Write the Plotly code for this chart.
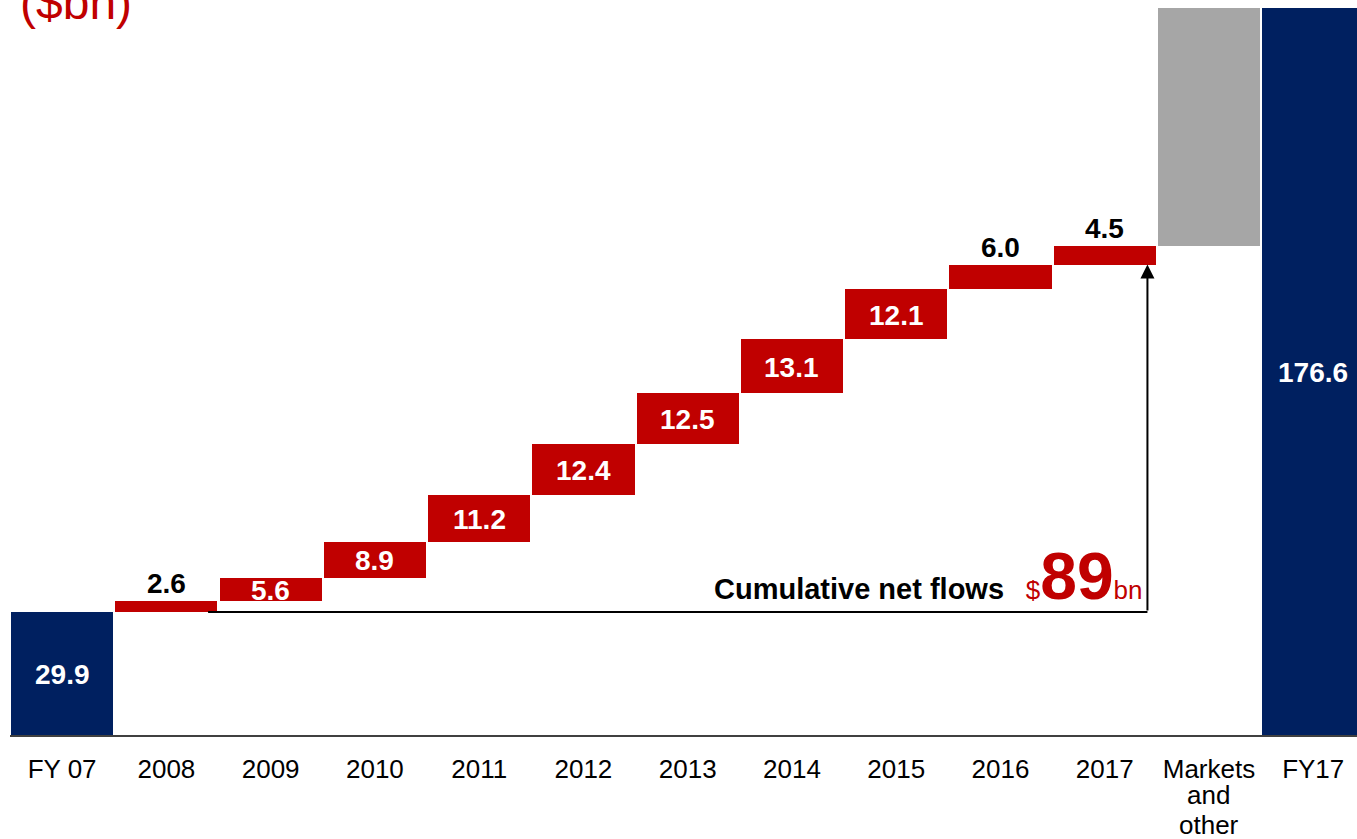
import plotly.graph_objects as go

# Waterfall of assets: opening total, yearly net flows, market moves, closing total
categories = ["FY 07", "2008", "2009", "2010", "2011", "2012", "2013",
              "2014", "2015", "2016", "2017", "Markets<br>and<br>other", "FY17"]
opening = 29.9
net_flows = [2.6, 5.6, 8.9, 11.2, 12.4, 12.5, 13.1, 12.1, 6.0, 4.5]
markets_other = 57.8
closing = 176.6
labels = ["29.9", "2.6", "5.6", "8.9", "11.2", "12.4", "12.5", "13.1",
          "12.1", "6.0", "4.5", "", "176.6"]
outside_labels = {"2.6", "6.0", "4.5"}

NAVY = "#002060"
RED = "#C00000"
GREY = "#A6A6A6"
FONT = "Liberation Sans, Arial, sans-serif"
TICK_SIZE = 26
TICK_STANDOFF = 10
LINE_STEP = 30  # tighter line pitch for wrapped category names

# floating bar bases and heights
values = [opening] + net_flows + [markets_other, closing]
bases = [0.0]
running = opening
for v in net_flows:
    bases.append(running)
    running += v
bases.append(running)
bases.append(0.0)
colors = [NAVY] + [RED] * len(net_flows) + [GREY, NAVY]
xs = list(range(len(categories)))

fig = go.Figure()
fig.add_trace(go.Bar(
    x=xs, y=values, base=bases, width=0.98,
    marker=dict(color=colors, line=dict(width=0)),
    hoverinfo="skip", showlegend=False,
))

# value labels: white inside tall bars, black above thin ones
for i, (lab, v, b) in enumerate(zip(labels, values, bases)):
    if not lab:
        continue
    if lab in outside_labels:
        fig.add_annotation(x=i, y=b + v, text=f"<b>{lab}</b>", showarrow=False,
                           yanchor="bottom", yshift=0,
                           font=dict(family=FONT, size=28, color="black"))
    else:
        fig.add_annotation(x=i, y=b + v / 2, text=f"<b>{lab}</b>", showarrow=False,
                           yanchor="middle", yshift=-1,
                           font=dict(family=FONT, size=28, color="white"))

# category names: first line on the axis, continuation lines set beneath it
tick_first = []
for i, cat in enumerate(categories):
    parts = cat.split("<br>")
    tick_first.append(parts[0])
    for k, extra in enumerate(parts[1:], start=1):
        fig.add_annotation(x=i, y=0, xref="x", yref="paper", yanchor="top",
                           yshift=-(TICK_STANDOFF + k * LINE_STEP + 4),
                           showarrow=False, borderpad=0,
                           text=extra,
                           font=dict(family=FONT, size=TICK_SIZE, color="black"))

# cumulative net-flow bracket: horizontal rule then arrow up to the last flow bar
last = len(net_flows)
arrow_x = last + 0.41
fig.add_shape(type="line", x0=1.4, x1=arrow_x, y0=opening, y1=opening,
              line=dict(color="black", width=2))
fig.add_annotation(x=arrow_x, y=bases[last], ax=arrow_x, ay=opening,
                   xref="x", yref="y", axref="x", ayref="y",
                   showarrow=True, arrowhead=2, arrowsize=1.4, arrowwidth=2,
                   arrowcolor="black", text="")
total_flows = sum(net_flows)
fig.add_annotation(
    x=arrow_x, y=opening, xanchor="right", yanchor="bottom", xshift=-2, yshift=-3,
    showarrow=False,
    text=("<b style='font-size:29px'>Cumulative net flows</b>   "
          f"<span style='color:{RED}'>$<b style='font-size:66px'>{total_flows:.0f}</b>bn</span>"),
    font=dict(family=FONT, size=26, color="black"),
)

# unit caption in the top-left corner
fig.add_annotation(x=0, y=1, xref="paper", yref="paper", xanchor="left",
                   yanchor="middle", xshift=8, yshift=-2, showarrow=False,
                   text="($bn)", font=dict(family=FONT, size=48, color=RED))

fig.update_layout(
    width=1357, height=839,
    margin=dict(l=10, r=0, t=0, b=104, autoexpand=False),
    paper_bgcolor="white", plot_bgcolor="white",
    bargap=0,
    xaxis=dict(range=[-0.5, 12.42], tickvals=xs, ticktext=tick_first,
               showgrid=False, zeroline=False, showline=True, automargin=False,
               linecolor="#404040", linewidth=2, ticks="",
               ticklabelstandoff=TICK_STANDOFF,
               tickfont=dict(family=FONT, size=TICK_SIZE, color="black")),
    yaxis=dict(range=[0, 178.6], visible=False, showgrid=False, zeroline=False,
               automargin=False),
)

fig.write_html("out.html")
